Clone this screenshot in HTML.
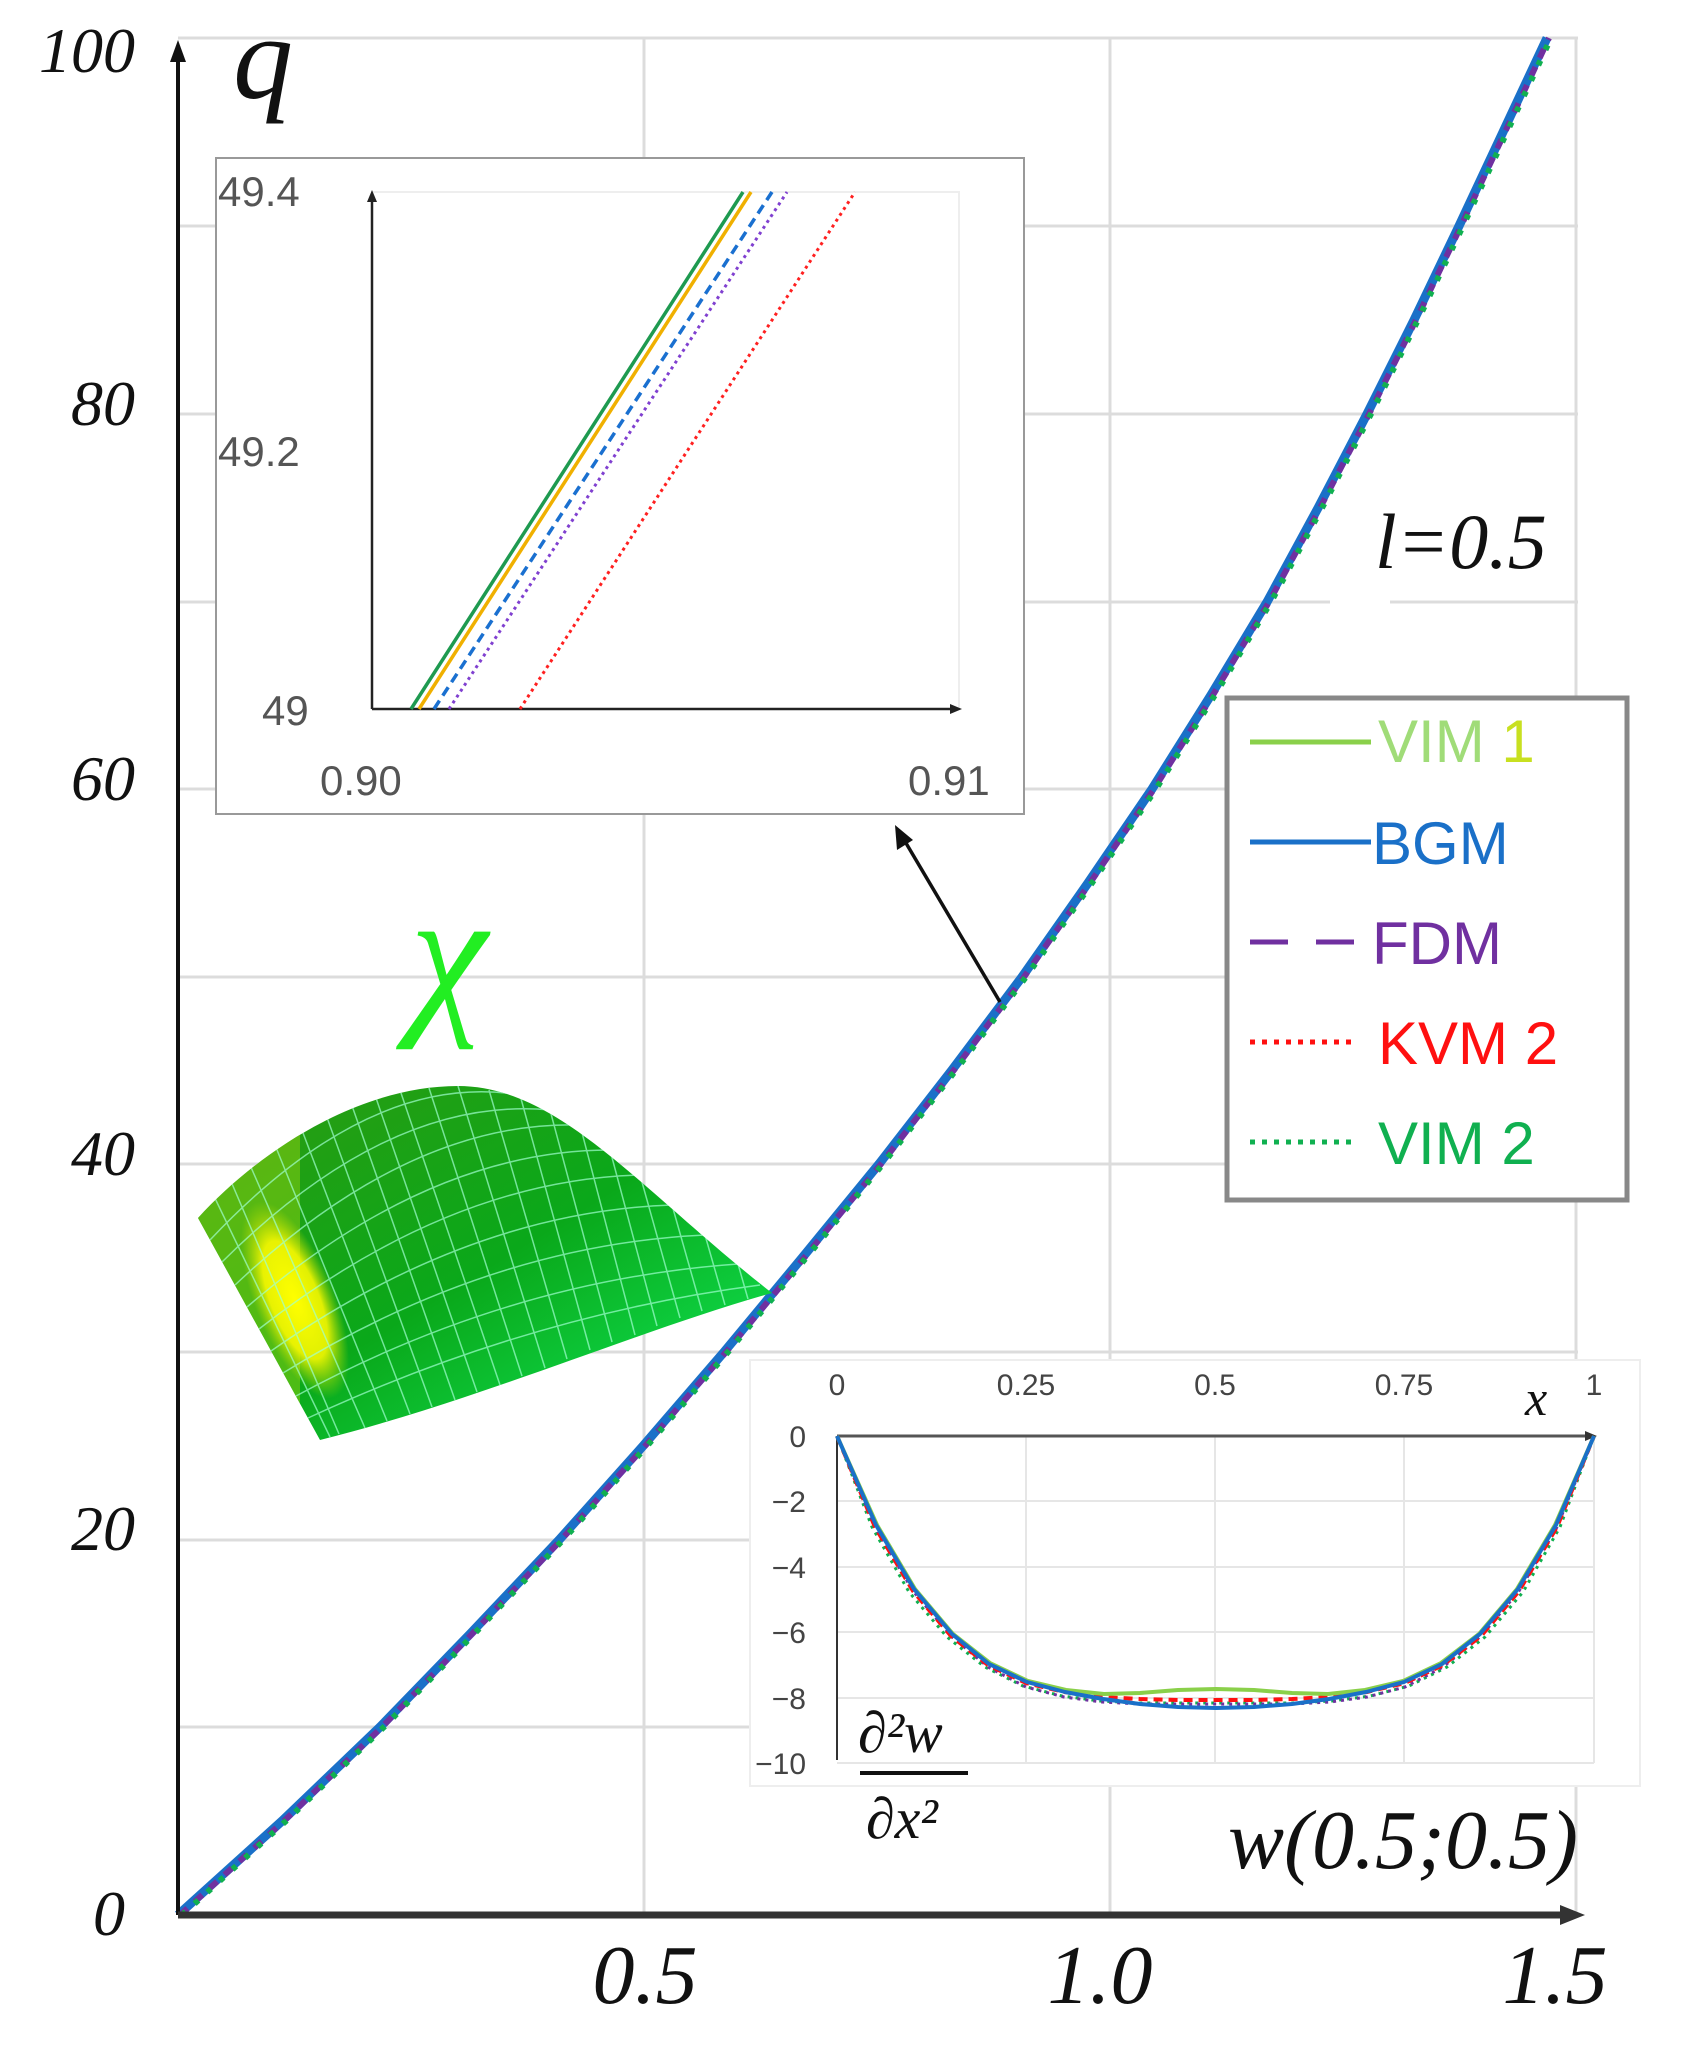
<!DOCTYPE html>
<html><head><meta charset="utf-8">
<style>
html,body{margin:0;padding:0;background:#fff;}
svg{display:block;}
.ser{font-family:"Liberation Serif",serif;font-style:italic;}
.san{font-family:"Liberation Sans",sans-serif;}
</style></head>
<body>
<svg width="1689" height="2047" viewBox="0 0 1689 2047" xmlns="http://www.w3.org/2000/svg">
<defs>
<linearGradient id="gs" x1="0" y1="0" x2="1" y2="1">
<stop offset="0" stop-color="#2f9a10"/><stop offset="0.5" stop-color="#0aa81a"/><stop offset="1" stop-color="#10f060"/>
</linearGradient>
<radialGradient id="yb" cx="0.5" cy="0.5" r="0.5">
<stop offset="0" stop-color="#ffff00"/><stop offset="0.6" stop-color="#f8f800" stop-opacity="0.9"/><stop offset="1" stop-color="#c0e000" stop-opacity="0"/>
</radialGradient>
<clipPath id="surf"><path d="M198,1218 C260,1150 360,1086 458,1086 C560,1086 640,1190 772,1293 C640,1330 480,1400 320,1440 Z"/></clipPath>
</defs>
<!-- grid -->
<g stroke="#dcdcdc" stroke-width="3">
<line x1="178" y1="1727" x2="1578" y2="1727"/><line x1="178" y1="1540" x2="1578" y2="1540"/>
<line x1="178" y1="1352" x2="1578" y2="1352"/><line x1="178" y1="1164" x2="1578" y2="1164"/>
<line x1="178" y1="977" x2="1578" y2="977"/><line x1="178" y1="789" x2="1578" y2="789"/>
<line x1="178" y1="602" x2="1578" y2="602"/><line x1="178" y1="414" x2="1578" y2="414"/>
<line x1="178" y1="226" x2="1578" y2="226"/><line x1="178" y1="38" x2="1578" y2="38"/>
<line x1="644" y1="38" x2="644" y2="1915"/><line x1="1110" y1="38" x2="1110" y2="1915"/><line x1="1576" y1="38" x2="1576" y2="1915"/>
</g>
<rect x="1330" y="600" width="60" height="40" fill="#fff"/>
<!-- main curve -->
<g fill="none" stroke-linejoin="round">
<polyline id="c" points="178,1915 282,1821 380,1727 471,1633 559,1540 643,1446 724,1352 802,1258 879,1164 952,1070 1022,977 1088,883 1152,789 1211,695 1267,602 1318,508 1367,414 1414,320 1459,226 1503,132 1547,38" stroke="#1a70c8" stroke-width="9"/>
<polyline points="178,1915 282,1821 380,1727 471,1633 559,1540 643,1446 724,1352 802,1258 879,1164 952,1070 1022,977 1088,883 1152,789 1211,695 1267,602 1318,508 1367,414 1414,320 1459,226 1503,132 1547,38" stroke="#7030a0" stroke-width="6" stroke-dasharray="10 10" transform="translate(2,0)"/>
<polyline points="178,1915 282,1821 380,1727 471,1633 559,1540 643,1446 724,1352 802,1258 879,1164 952,1070 1022,977 1088,883 1152,789 1211,695 1267,602 1318,508 1367,414 1414,320 1459,226 1503,132 1547,38" stroke="#10b050" stroke-width="6" stroke-dasharray="5 12" transform="translate(4,0)"/>
</g>
<!-- axes -->
<line x1="178" y1="1915" x2="178" y2="55" stroke="#111" stroke-width="4"/>
<path d="M178,40 L170,62 L186,62 Z" fill="#111"/>
<line x1="178" y1="1915" x2="1565" y2="1915" stroke="#333" stroke-width="7"/>
<path d="M1585,1915 L1560,1905 L1560,1925 Z" fill="#333"/>
<g class="ser" font-size="64" fill="#111" text-anchor="end">
<text x="135" y="72">100</text><text x="135" y="425">80</text><text x="135" y="800">60</text><text x="135" y="1175">40</text><text x="135" y="1550">20</text><text x="125" y="1935">0</text>
</g>
<g class="ser" font-size="84" fill="#111" text-anchor="middle">
<text x="645" y="2003">0.5</text><text x="1100" y="2003">1.0</text><text x="1555" y="2003">1.5</text>
</g>
<text class="ser" x="233" y="98" font-size="120" fill="#111">q</text>
<text class="ser" x="1375" y="568" font-size="78" fill="#111">l=0.5</text>
<text class="ser" x="1228" y="1868" font-size="84" fill="#111">w(0.5;0.5)</text>
<!-- surface -->
<g clip-path="url(#surf)">
<rect x="190" y="1080" width="600" height="370" fill="url(#gs)"/>
<rect x="190" y="1080" width="110" height="370" fill="#8fd010" opacity="0.5"/>
<ellipse cx="295" cy="1300" rx="40" ry="105" fill="url(#yb)" transform="rotate(-22 295 1300)"/>
<g stroke="#a0ffd0" stroke-width="1.5" fill="none" opacity="0.7">
<path d="M250,1165 L365,1428"/><path d="M275,1145 L387,1421"/><path d="M300,1125 L410,1414"/><path d="M325,1112 L432,1407"/>
<path d="M350,1100 L455,1400"/><path d="M375,1095 L477,1392"/><path d="M400,1090 L500,1385"/><path d="M429,1088 L522,1376"/>
<path d="M458,1086 L545,1368"/><path d="M489,1090 L567,1359"/><path d="M520,1095 L590,1350"/><path d="M550,1110 L612,1342"/>
<path d="M580,1125 L635,1335"/><path d="M610,1150 L657,1326"/><path d="M640,1175 L680,1318"/><path d="M672,1205 L702,1311"/>
<path d="M705,1235 L725,1305"/><path d="M738,1264 L748,1299"/>
<path d="M224,1165 L339,1434"/><path d="M211,1190 L330,1437"/>
<path d="M210,1240 Q370,1070 520,1095"/><path d="M222,1262 Q390,1095 550,1110"/><path d="M235,1285 Q410,1120 580,1125"/>
<path d="M247,1307 Q430,1150 610,1150"/><path d="M259,1329 Q450,1180 640,1175"/><path d="M271,1351 Q470,1212 672,1205"/>
<path d="M283,1373 Q490,1245 705,1235"/><path d="M296,1396 Q510,1280 738,1264"/><path d="M308,1418 Q530,1315 760,1285"/>
</g>
</g>
<text class="ser" x="410" y="1012" font-size="175" fill="#22ee22">χ</text>
<!-- inset 1 -->
<rect x="216" y="158" width="808" height="656" fill="#fff" stroke="#999" stroke-width="2"/>
<rect x="372" y="192" width="587" height="517" fill="none" stroke="#eee" stroke-width="2"/>
<line x1="372" y1="709" x2="372" y2="198" stroke="#222" stroke-width="2.5"/>
<path d="M372,190 L367,202 L377,202 Z" fill="#222"/>
<line x1="372" y1="709" x2="952" y2="709" stroke="#222" stroke-width="2.5"/>
<path d="M962,709 L950,704 L950,714 Z" fill="#222"/>
<g class="san" font-size="42" fill="#555">
<text x="218" y="206">49.4</text><text x="218" y="466">49.2</text><text x="262" y="725">49</text>
<text x="320" y="795">0.90</text><text x="908" y="795">0.91</text>
</g>
<line x1="411" y1="709" x2="743" y2="192" stroke="#1e9a50" stroke-width="3.5"/>
<line x1="419" y1="709" x2="751" y2="192" stroke="#f0b000" stroke-width="3.5"/>
<line x1="434" y1="709" x2="772" y2="192" stroke="#1a70d0" stroke-width="3.5" stroke-dasharray="10 6"/>
<line x1="449" y1="709" x2="787" y2="192" stroke="#8040d0" stroke-width="3" stroke-dasharray="3 4"/>
<line x1="520" y1="709" x2="855" y2="192" stroke="#ff2020" stroke-width="3" stroke-dasharray="3 4"/>
<!-- arrow -->
<line x1="1000" y1="1002" x2="903" y2="838" stroke="#111" stroke-width="3.5"/>
<path d="M895,825 L897,850 L913,840 Z" fill="#111"/>
<!-- legend -->
<rect x="1227" y="698" width="400" height="502" fill="#fff" stroke="#888" stroke-width="5"/>
<g stroke-width="5">
<line x1="1250" y1="742" x2="1371" y2="742" stroke="#8ad04a"/>
<line x1="1250" y1="842" x2="1371" y2="842" stroke="#1a70c8"/>
<line x1="1250" y1="942" x2="1354" y2="942" stroke="#7030a0" stroke-dasharray="38 28"/>
<line x1="1250" y1="1042" x2="1354" y2="1042" stroke="#ff1010" stroke-dasharray="5 7"/>
<line x1="1250" y1="1142" x2="1354" y2="1142" stroke="#10b050" stroke-dasharray="5 7"/>
</g>
<g class="san" font-size="60">
<text x="1378" y="762" fill="#a0dc78">VIM <tspan fill="#c8e020">1</tspan></text>
<text x="1372" y="864" fill="#1a70c8">BGM</text>
<text x="1372" y="964" fill="#7030a0">FDM</text>
<text x="1378" y="1064" fill="#ff1010">KVM 2</text>
<text x="1378" y="1164" fill="#10b050">VIM 2</text>
</g>
<!-- inset 2 -->
<rect x="750" y="1360" width="890" height="426" fill="#fff" stroke="#eee" stroke-width="2"/>
<g stroke="#e6e6e6" stroke-width="2">
<line x1="837" y1="1501" x2="1594" y2="1501"/><line x1="837" y1="1567" x2="1594" y2="1567"/>
<line x1="837" y1="1632" x2="1594" y2="1632"/><line x1="837" y1="1698" x2="1594" y2="1698"/><line x1="837" y1="1763" x2="1594" y2="1763"/>
<line x1="1026" y1="1436" x2="1026" y2="1763"/><line x1="1215" y1="1436" x2="1215" y2="1763"/><line x1="1404" y1="1436" x2="1404" y2="1763"/><line x1="1594" y1="1436" x2="1594" y2="1763"/>
</g>
<line x1="837" y1="1436" x2="1590" y2="1436" stroke="#555" stroke-width="3"/>
<path d="M1597,1436 L1585,1431 L1585,1441 Z" fill="#333"/>
<line x1="837" y1="1436" x2="837" y2="1760" stroke="#333" stroke-width="2"/>
<g class="san" font-size="30" fill="#444" text-anchor="middle">
<text x="837" y="1395">0</text><text x="1026" y="1395">0.25</text><text x="1215" y="1395">0.5</text><text x="1404" y="1395">0.75</text><text x="1594" y="1395">1</text>
</g>
<g class="san" font-size="30" fill="#444" text-anchor="end">
<text x="806" y="1447">0</text><text x="806" y="1512">−2</text><text x="806" y="1578">−4</text><text x="806" y="1643">−6</text><text x="806" y="1709">−8</text><text x="806" y="1774">−10</text>
</g>
<text class="ser" x="1525" y="1415" font-size="50" fill="#111">x</text>
<g fill="none" stroke-linejoin="round">
<polyline points="837,1436 872,1527 909,1592 947,1637 985,1667 1023,1686 1062,1696 1100,1701 1140,1703 1178,1703 1216,1703 1254,1703 1292,1703 1332,1701 1370,1696 1409,1686 1447,1667 1485,1637 1523,1592 1560,1527 1594,1436" stroke="#10b050" stroke-width="3" stroke-dasharray="3 5"/>
<polyline points="837,1436 875,1527 913,1591 951,1636 988,1667 1026,1687 1064,1697 1102,1702 1140,1704 1178,1704 1216,1704 1254,1704 1292,1704 1330,1702 1367,1697 1405,1687 1443,1667 1481,1636 1519,1591 1557,1527 1594,1436" stroke="#7030a0" stroke-width="3" stroke-dasharray="3 5"/>
<polyline points="837,1436 875,1527 913,1591 951,1636 988,1665 1026,1683 1064,1692 1102,1697 1140,1699 1178,1700 1216,1700 1254,1700 1292,1699 1330,1697 1367,1692 1405,1683 1443,1665 1481,1636 1519,1591 1557,1527 1594,1436" stroke="#ff1010" stroke-width="4" stroke-dasharray="9 6"/>
<polyline points="837,1436 877,1525 915,1589 953,1634 990,1663 1028,1681 1066,1690 1104,1694 1140,1693 1178,1690 1216,1689 1254,1690 1292,1693 1328,1694 1365,1690 1403,1681 1441,1663 1479,1634 1517,1589 1555,1525 1594,1436" stroke="#8ad04a" stroke-width="4"/>
<polyline points="837,1436 876,1525 914,1589 952,1634 989,1664 1027,1682 1065,1692 1103,1699 1140,1704 1178,1707 1216,1708 1254,1707 1292,1704 1329,1699 1366,1692 1404,1682 1442,1664 1480,1634 1518,1589 1556,1525 1594,1436" stroke="#1a70c8" stroke-width="4"/>
</g>
<text class="ser" x="858" y="1752" font-size="58" fill="#111">∂²w</text>
<line x1="860" y1="1773" x2="968" y2="1773" stroke="#111" stroke-width="4"/>
<text class="ser" x="866" y="1838" font-size="58" fill="#111">∂x²</text>
</svg>
</body></html>
